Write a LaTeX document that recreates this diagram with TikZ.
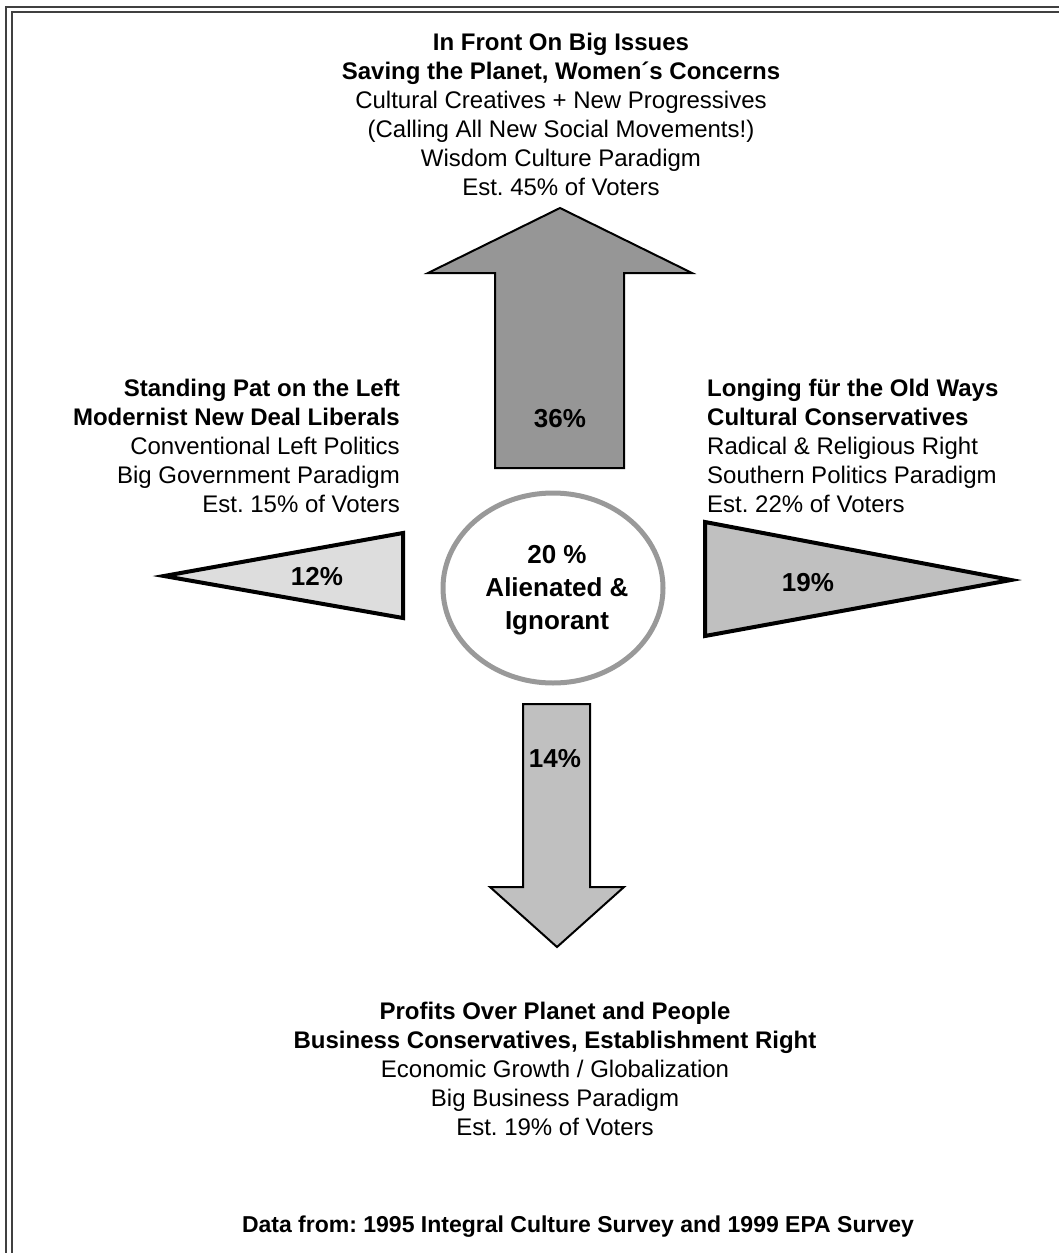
\documentclass[tikz,border=0pt]{standalone}
\usepackage{fontspec}
\setmainfont{Liberation Sans}
\usepackage{xcolor}
\usetikzlibrary{shapes.geometric}
\frenchspacing

\definecolor{upgray}{RGB}{150,150,150}
\definecolor{midgray}{RGB}{192,192,192}
\definecolor{palegray}{RGB}{221,221,221}
\definecolor{ringgray}{RGB}{153,153,153}

\tikzset{
  plainline/.style={font=\fontsize{24}{29}\selectfont, inner sep=0pt, text height=17pt, text depth=0pt},
  boldline/.style={plainline, font=\fontsize{24}{29}\selectfont\bfseries},
  pct/.style={font=\fontsize{26}{31}\selectfont\bfseries, inner sep=0pt, text height=19pt, text depth=0pt},
  frame/.style={draw=black!75, line width=2pt},
}

\begin{document}
\begin{tikzpicture}[x=1pt, y=-1pt]
  \useasboundingbox (0,0) rectangle (1059,1253);

  % double frame, left and top only
  \draw[frame] (6,1253) -- (6,7) -- (1059,7);
  \draw[frame] (12,1253) -- (12,12) -- (1059,12);

  % big arrow up
  \draw[fill=upgray, line width=2pt, line join=miter]
    (495,468) -- (495,273) -- (428,273) -- (560,208) -- (692,273) -- (624,273) -- (624,468) -- cycle;
  \node[pct] (up) at (560,418) {36\%};

  % arrow down
  \draw[fill=midgray, line width=2pt, line join=miter]
    (523,704) -- (590,704) -- (590,887) -- (624,887) -- (557,947) -- (490,887) -- (523,887) -- cycle;
  \node[pct] (down) at (555,758) {14\%};

  % pennants left and right
  \draw[fill=palegray, line width=4pt, line join=miter] (403,533) -- (403,618) -- (164,576) -- cycle;
  \node[pct] (left) at (317,576) {12\%};
  \draw[fill=midgray, line width=4pt, line join=miter] (705,522) -- (705,636) -- (1011,580) -- cycle;
  \node[pct] (right) at (808,582) {19\%};

  % centre ring
  \node[ellipse, draw=ringgray, line width=5pt, minimum width=220pt, minimum height=190pt, inner sep=0pt] (core) at (553,588) {};
  \node[align=center, font=\fontsize{26}{33}\selectfont\bfseries] (coretext) at (557,590)
    {20 \%\\Alienated \&\\Ignorant};

  % top block
  \node[boldline] (top-a) at (561,42) {In Front On Big Issues};
  \node[boldline] (top-b) at (561,71) {Saving the Planet, Women´s Concerns};
  \foreach \t [count=\i from 0] in {Cultural Creatives + New Progressives, (Calling All New Social Movements!),
      Wisdom Culture Paradigm, Est. 45\% of Voters}{
    \node[plainline] (top-\i) at (561,{100+29*\i}) {\t};
  }

  % left block
  \node[boldline, anchor=east] (left-a) at (400,388) {Standing Pat on the Left};
  \node[boldline, anchor=east] (left-b) at (400,417) {Modernist New Deal Liberals};
  \foreach \t [count=\i from 0] in {Conventional Left Politics, Big Government Paradigm, Est. 15\% of Voters}{
    \node[plainline, anchor=east] (left-\i) at (400,{446+29*\i}) {\t};
  }

  % right block
  \node[boldline, anchor=west] (right-a) at (707,388) {Longing für the Old Ways};
  \node[boldline, anchor=west] (right-b) at (707,417) {Cultural Conservatives};
  \foreach \t [count=\i from 0] in {Radical \& Religious Right, Southern Politics Paradigm, Est. 22\% of Voters}{
    \node[plainline, anchor=west] (right-\i) at (707,{446+29*\i}) {\t};
  }

  % bottom block
  \node[boldline] (bot-a) at (555,1011) {Profits Over Planet and People};
  \node[boldline] (bot-b) at (555,1040) {Business Conservatives, Establishment Right};
  \foreach \t [count=\i from 0] in {Economic Growth / Globalization, Big Business Paradigm, Est. 19\% of Voters}{
    \node[plainline] (bot-\i) at (555,{1069+29*\i}) {\t};
  }

  % source
  \node[boldline, font=\fontsize{23}{28}\selectfont\bfseries] (source) at (578,1224)
    {Data from: 1995 Integral Culture Survey and 1999 EPA Survey};
\end{tikzpicture}
\end{document}
